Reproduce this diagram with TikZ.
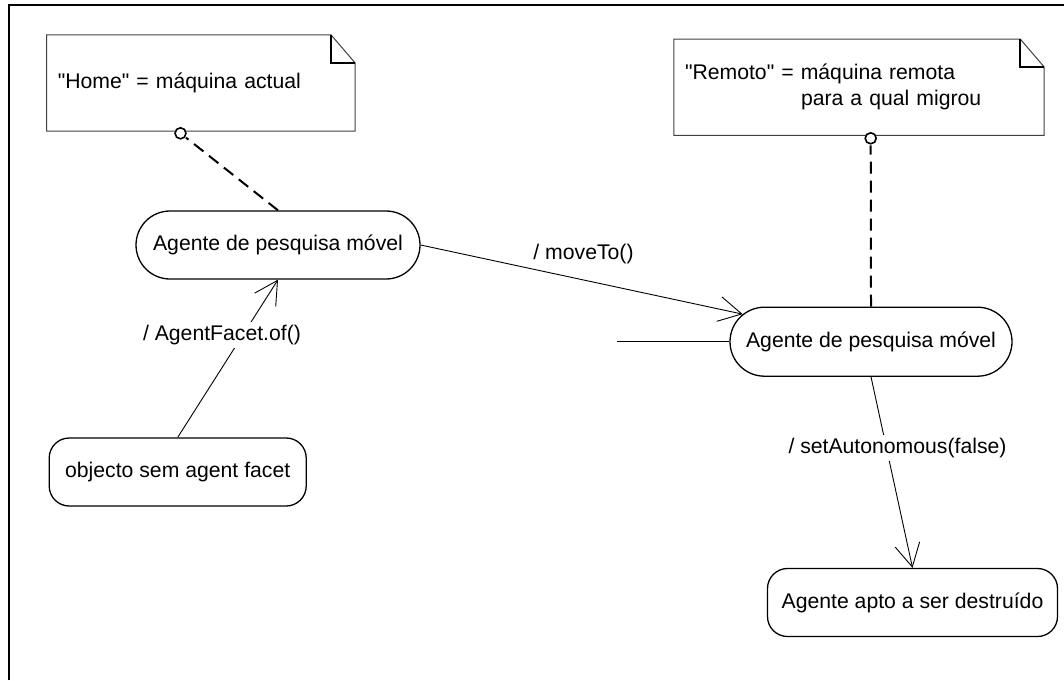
\documentclass[tikz,border=0pt]{standalone}
\usepackage{fontspec}
\setmainfont{Liberation Sans}[Ligatures=TeXOff]
\usetikzlibrary{arrows.meta,shapes.misc}

\begin{document}
\begin{tikzpicture}[x=1pt,y=-1pt,
  font=\fontsize{21.2}{26.3}\selectfont,
  pill/.style={rounded rectangle, draw, line width=1.3pt, minimum height=68pt, inner sep=0pt},
  statebox/.style={rectangle, rounded corners=20pt, draw, line width=1.3pt, minimum height=68pt, inner sep=0pt},
  note/.style={rectangle, inner xsep=11pt, inner ysep=0pt, align=left},
  noteline/.style={line width=1pt, draw=black!75},
  fold/.style={line width=1.6pt},
  notelink/.style={line width=2pt, dash pattern=on 12pt off 7pt},
  anchorring/.style={line width=1.6pt, fill=white},
  trans/.style={line width=0.9pt, -{Straight Barb[length=23pt,width=25pt]}},
  lbl/.style={fill=white, inner sep=3pt}
]
\useasboundingbox (0,0) rectangle (1064,680);

% outer frame (top and left sides only)
\draw[line width=2pt] (9,680) |- (1064,5);

% notes
\node[note, text width=286pt, minimum height=96pt] (home) at (200.8,83) {"Home" = máquina actual};
\node[note, text width=348pt, minimum height=96pt] (remoto) at (859,87.2)
  {"Remoto" = máquina remota\\\hspace*{116pt}para a qual migrou};

\foreach \n in {home,remoto}{
  \draw[noteline] (\n.north west) -- ([xshift=-24pt]\n.north east)
    -- ([yshift=-28pt]\n.north east) -- (\n.south east) -- (\n.south west) -- cycle;
  \draw[fold] ([xshift=-24pt]\n.north east) |- ([yshift=-28pt]\n.north east);
}

% states
\node[pill, minimum width=284pt] (ag1) at (278,245) {Agente de pesquisa móvel};
\node[pill, minimum width=282pt, minimum height=69pt] (ag2) at (871,341.7) {Agente de pesquisa móvel};
\node[statebox, minimum width=257pt] (obj) at (177.7,472) {objecto sem agent facet};
\node[statebox, minimum width=290pt] (apto) at (912.5,602.5) {Agente apto a ser destruído};

% note attachments
\coordinate (c1) at (180.5,133.3);
\coordinate (c2) at (870.7,138.3);
\draw[notelink, shorten >=7pt] (ag1.north) -- (c1);
\draw[notelink, shorten >=7pt] (ag2.north) -- (c2);
\draw[anchorring] (c1) circle (5.5pt);
\draw[anchorring] (c2) circle (5.5pt);

% transitions
\coordinate (init) at (616.7,341.7);
\draw[line width=1.4pt] (init) -- (ag2.west);
\draw[trans] (obj.north) -- (ag1.south);
\draw[trans] (ag1.east) -- (ag2);
\draw[trans] (ag2.south) -- (apto.north);

% transition labels
\node[lbl] (lfacet) at (222,335) {/ AgentFacet.of()};
\node[lbl] (lmove) at (583.5,254) {/ moveTo()};
\node[lbl] (lauto) at (897.5,448) {/ setAutonomous(false)};
\end{tikzpicture}
\end{document}
